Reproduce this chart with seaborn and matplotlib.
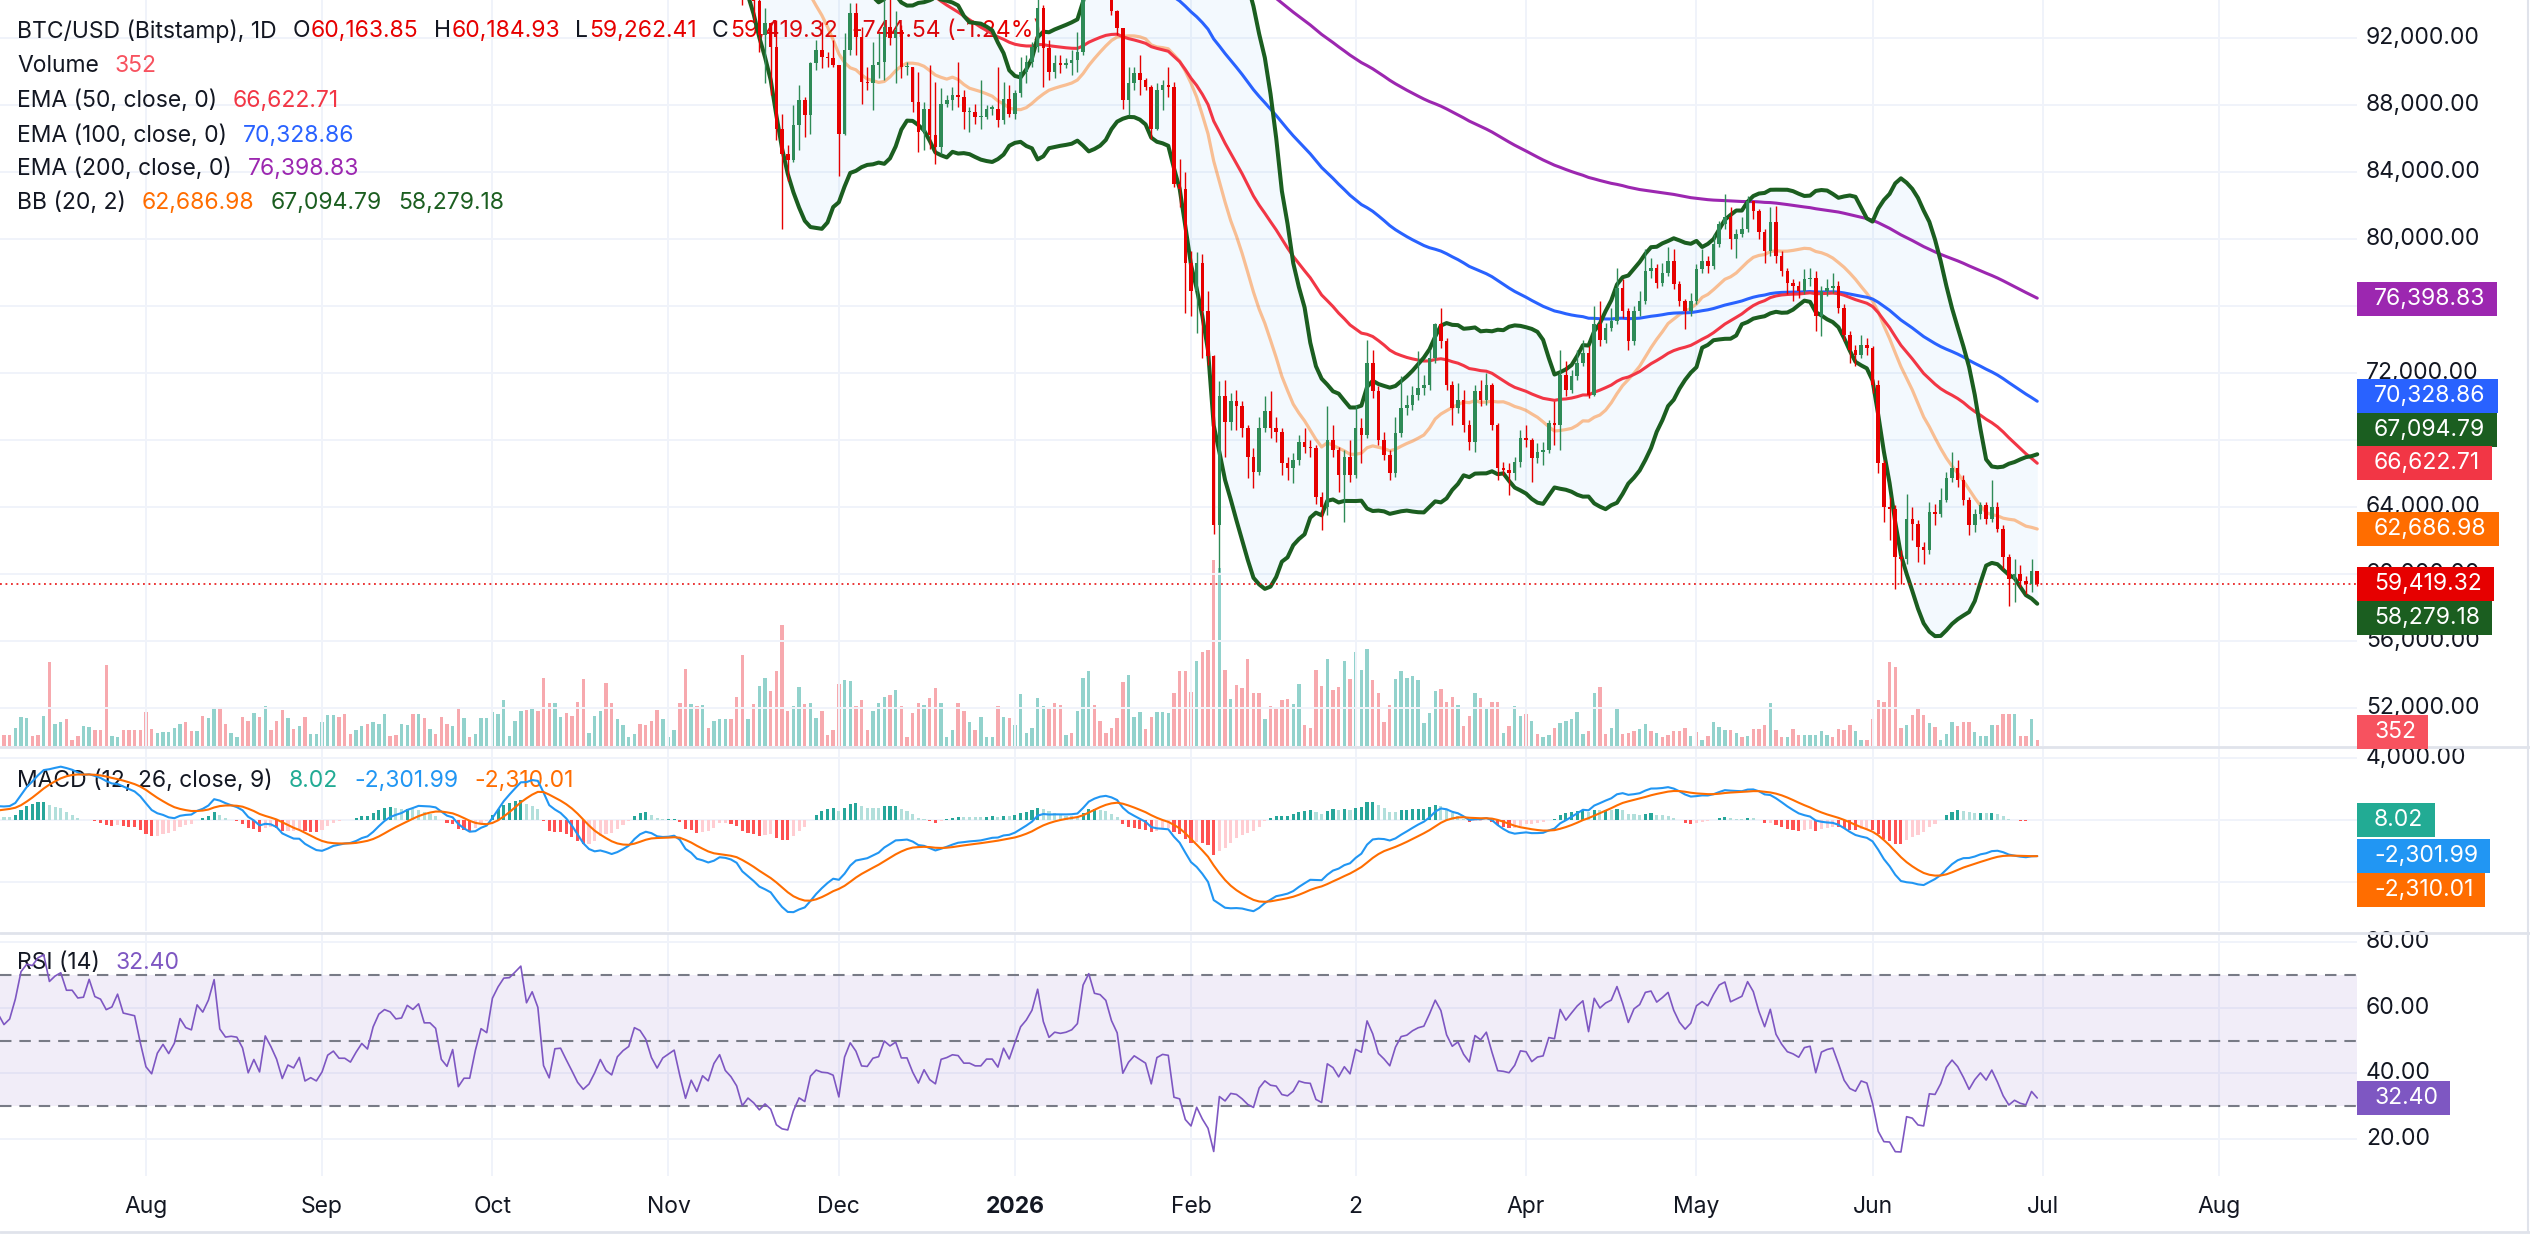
import numpy as np
import pandas as pd
import matplotlib
matplotlib.use("Agg")
import matplotlib.pyplot as plt
from matplotlib.patches import Rectangle
from matplotlib.lines import Line2D
import seaborn as sns

W, H = 2530, 1253

# closes before the first visible candle, 1 May 2025 - 13 Nov 2025 (thousand USD, above the chart top)
hist_close = [
    96.5, 96.9, 95.9, 94.3, 94.7, 96.8, 97.0, 103.2, 102.9, 104.6, 104.1, 102.8, 104.1, 103.5, 103.7, 103.5,
    103.2, 106.4, 105.6, 106.8, 109.7, 111.7, 107.3, 107.8, 109.0, 109.4, 108.9, 107.8, 105.6, 103.9, 104.6,
    105.7, 105.9, 105.4, 104.7, 101.5, 104.3, 105.6, 105.7, 110.2, 110.2, 108.6, 105.9, 106.0, 105.4, 105.6,
    106.8, 104.5, 104.8, 104.6, 103.3, 102.1, 100.9, 105.5, 106.0, 107.3, 106.9, 107.1, 107.3, 108.4, 107.1,
    105.7, 108.8, 109.6, 108.0, 108.2, 109.2, 108.3, 108.9, 111.3, 115.9, 117.5, 117.4, 119.1, 119.8, 117.7,
    118.7, 119.3, 117.9, 117.9, 117.3, 117.4, 119.9, 118.6, 118.4, 117.6, 117.9, 119.4, 118.0, 117.9, 117.8, 115.7,
    113.3, 112.5, 114.2, 115.0, 114.1, 115.0, 117.5, 116.7, 116.5, 119.3, 118.7, 120.2, 123.3, 118.4, 117.4,
    117.5, 117.4, 116.2, 112.9, 114.3, 112.5, 116.9, 115.4, 113.5, 110.1, 111.8, 111.3, 112.6, 108.4, 108.8, 108.2,
    109.2, 111.2, 111.7, 110.7, 110.7, 110.2, 111.2, 112.1, 111.5, 113.9, 115.5, 116.1, 115.9, 115.3, 115.4,
    116.8, 116.5, 117.1, 115.7, 115.7, 115.3, 112.7, 112.0, 113.3, 109.0, 109.7, 109.7, 112.1, 114.4, 114.0,
    118.6, 120.6, 122.3, 122.4, 123.5, 124.7, 121.4, 123.3, 121.7, 113.2, 110.6, 115.2, 115.3, 113.1, 110.8,
    108.2, 106.5, 107.2, 108.7, 110.6, 108.5, 107.6, 110.1, 111.0, 111.6, 114.5, 114.1, 112.9, 110.1, 108.3, 109.6,
    110.1, 110.6, 106.5, 101.6, 103.9, 101.3, 103.4, 102.3, 104.7, 106.0, 103.0, 101.7, 99.7,
]

# daily candles 14 Nov 2025 - 30 Jun 2026 (thousand USD); each open is the previous close
close = [
    94.5, 95.5, 94.2, 92.2, 92.9, 91.5, 86.6, 85.1, 84.7, 86.8, 88.3, 87.4, 90.5, 91.3, 90.9, 90.8, 90.4,
    86.3, 91.3, 93.5, 92.1, 89.4, 89.3, 90.4, 90.6, 92.7, 92.0, 92.5, 90.3, 90.3, 88.2, 86.4, 87.8,
    86.2, 85.5, 88.1, 88.3, 88.6, 88.5, 87.6, 87.6, 87.3, 87.3, 87.8, 87.8, 87.1, 88.4, 87.5,
    88.7, 90.0, 90.6, 91.5, 93.8, 91.4, 90.0, 90.5, 90.4, 90.5, 90.7, 91.2, 95.3, 97.0, 95.6, 95.5,
    95.1, 93.6, 92.6, 88.3, 89.3, 89.9, 89.5, 89.1, 86.6, 88.9, 89.2, 89.1, 83.3, 83.0, 78.6,
    76.9, 78.6, 75.7, 73.0, 62.9, 70.6, 69.1, 70.3, 70.0, 68.7, 67.0, 66.1, 68.7, 69.7,
    68.7, 68.5, 66.6, 66.3, 66.8, 67.9, 67.6, 67.5, 64.6, 64.0, 68.0, 67.4, 65.9, 67.0,
    65.9, 68.7, 68.3, 72.6, 70.9, 68.0, 67.1, 66.0, 68.4, 69.9, 70.1, 70.7, 71.1, 71.3, 72.9, 74.9,
    73.9, 71.3, 69.9, 70.4, 68.9, 67.9, 70.9, 70.4, 71.3, 68.9, 66.3, 66.2, 66.0, 66.7, 68.1,
    68.0, 66.9, 67.3, 67.4, 69.0, 68.9, 71.9, 71.0, 71.8, 72.6, 73.2, 70.7, 74.9, 74.0, 74.7,
    75.1, 77.1, 75.7, 73.9, 75.7, 76.3, 78.1, 78.3, 77.4, 78.0, 78.7, 77.3, 76.3, 75.7, 76.3,
    78.2, 78.7, 78.4, 79.7, 80.9, 81.3, 80.0, 80.3, 80.6, 82.3, 81.7, 80.4, 79.3, 81.0, 79.0, 78.1,
    77.4, 77.2, 76.9, 77.6, 77.7, 75.4, 76.9, 77.1, 77.2, 75.9, 74.3, 73.4, 73.1, 73.7, 73.5,
    71.3, 66.6, 64.0, 63.9, 61.0, 60.9, 63.3, 63.0, 61.6, 61.4, 63.7, 63.6, 64.4, 65.7, 66.3,
    65.6, 64.4, 62.9, 63.6, 64.1, 63.3, 64.0, 62.7, 61.0, 59.7, 60.0, 59.6, 59.4, 60.16, 59.42,
]
high = [
    99.8, 96.8, 96.6, 96.0, 93.8, 93.0, 93.1, 87.5, 85.6, 88.0, 89.2, 88.5, 90.6, 91.9, 93.0, 91.2, 91.9,
    90.4, 92.3, 94.1, 94.1, 92.7, 90.3, 91.8, 92.3, 94.6, 94.5, 93.6, 92.8, 90.6, 90.3, 90.0, 88.2,
    90.4, 89.4, 89.0, 88.6, 89.1, 90.6, 88.9, 87.9, 88.1, 89.5, 88.0, 88.0, 90.3, 89.4, 89.2,
    88.9, 90.9, 91.0, 91.8, 94.5, 94.0, 91.9, 91.0, 91.0, 90.8, 91.3, 92.4, 96.0, 97.8, 97.2, 95.9,
    95.6, 95.5, 93.7, 92.6, 90.3, 90.3, 91.0, 89.6, 89.2, 89.3, 89.5, 90.3, 89.4, 84.8, 84.0,
    79.3, 79.2, 79.1, 76.9, 73.1, 71.5, 71.6, 70.8, 71.0, 70.3, 68.9, 67.5, 69.4, 70.6,
    70.9, 69.4, 68.7, 67.0, 67.2, 68.3, 68.7, 68.0, 67.7, 64.9, 70.0, 68.9, 67.6, 67.4,
    68.0, 70.1, 69.3, 74.0, 73.4, 71.2, 68.5, 67.4, 69.4, 71.8, 70.7, 71.2, 73.3, 71.9, 73.4, 75.0,
    75.9, 74.1, 71.5, 71.4, 71.0, 69.2, 71.3, 71.6, 72.0, 71.4, 69.0, 66.7, 66.6, 67.0, 68.6,
    68.9, 68.1, 67.8, 67.9, 69.2, 70.3, 73.4, 72.7, 72.2, 73.4, 74.0, 73.6, 76.0, 76.3, 75.0,
    75.9, 78.3, 77.6, 75.9, 76.0, 76.9, 79.4, 78.9, 78.5, 78.6, 79.5, 79.4, 77.5, 76.4, 76.8,
    78.5, 79.4, 79.0, 80.3, 81.1, 82.7, 81.9, 80.6, 81.3, 82.6, 82.3, 81.8, 80.6, 81.9, 82.0, 79.3,
    78.3, 77.6, 77.5, 78.2, 78.3, 78.1, 77.2, 77.6, 78.0, 77.5, 76.1, 74.5, 73.7, 74.3, 74.1,
    73.6, 71.6, 66.8, 64.6, 64.1, 61.4, 64.8, 64.0, 63.2, 61.9, 64.3, 64.2, 65.1, 66.1, 67.3,
    66.8, 65.9, 64.6, 63.9, 64.3, 64.3, 65.6, 64.3, 62.9, 61.2, 60.9, 60.5, 59.9, 60.9, 60.18,
]
low = [
    94.0, 94.5, 93.0, 91.2, 89.3, 88.6, 85.9, 80.6, 83.5, 84.6, 85.3, 86.1, 86.3, 90.1, 90.2, 90.3, 90.3,
    83.8, 86.2, 91.0, 91.0, 88.1, 88.9, 87.7, 89.6, 89.5, 91.6, 89.3, 89.6, 89.8, 87.6, 85.2, 85.3,
    85.4, 84.5, 85.1, 87.9, 87.7, 87.9, 86.6, 86.4, 86.9, 86.6, 87.2, 87.4, 86.7, 86.9, 87.3,
    87.2, 88.5, 89.3, 90.3, 91.2, 89.1, 89.5, 89.6, 89.9, 90.2, 89.8, 90.0, 91.0, 94.8, 95.0, 94.5,
    94.7, 93.4, 92.2, 87.8, 87.4, 88.9, 88.6, 88.9, 86.0, 86.5, 87.7, 88.5, 83.1, 81.9, 75.6,
    75.4, 74.4, 72.9, 72.5, 62.4, 60.1, 67.0, 68.6, 68.6, 68.2, 65.7, 65.1, 65.9, 68.5,
    68.1, 67.9, 65.9, 65.6, 65.4, 66.5, 67.2, 67.0, 64.2, 62.6, 63.5, 67.0, 64.9, 63.1,
    65.5, 65.7, 66.6, 68.1, 70.5, 67.7, 66.8, 65.6, 65.8, 68.2, 69.5, 69.8, 70.4, 70.7, 71.0, 72.6,
    73.5, 71.0, 68.9, 69.6, 68.5, 67.4, 67.3, 70.0, 70.1, 68.6, 65.6, 65.9, 64.7, 65.6, 66.4,
    67.6, 65.5, 66.6, 66.5, 67.2, 67.7, 67.4, 70.6, 70.8, 71.6, 72.4, 70.5, 70.6, 73.6, 73.8,
    74.5, 74.9, 75.3, 73.4, 73.7, 75.4, 76.1, 77.7, 77.1, 77.2, 77.8, 77.0, 76.0, 74.6, 75.4,
    76.1, 78.0, 78.0, 78.2, 79.5, 80.6, 79.4, 78.9, 80.1, 80.4, 81.2, 80.0, 78.6, 79.0, 78.6, 77.8,
    76.7, 76.3, 76.5, 76.7, 77.2, 74.5, 74.2, 76.6, 76.8, 75.6, 73.9, 72.6, 72.4, 72.9, 73.1,
    70.8, 66.0, 63.1, 62.0, 59.1, 59.4, 60.6, 62.0, 60.7, 60.6, 61.2, 62.9, 63.4, 64.3, 65.5,
    65.2, 64.1, 62.3, 62.5, 63.3, 63.0, 63.1, 62.5, 60.3, 58.1, 58.3, 59.2, 58.8, 58.9, 59.26,
]

# daily volume 7 Jul 2025 - 30 Jun 2026 (BTC) and bar direction (g = up day, r = down day)
volume = [
    620, 620, 1030, 1650, 1570, 570, 620, 1700, 4750, 1240, 1380, 1510, 350, 570, 1110, 1050, 890, 890, 4590, 570,
    490, 890, 920, 920, 920, 1920, 970, 760, 810, 810, 1030, 1240, 1380, 840, 840, 1700, 1570, 2160, 2160, 1240,
    760, 490, 1650, 1430, 1840, 1650, 2270, 890, 1430, 2050, 1570, 970, 1110, 1650, 700, 700, 1380, 1760, 1760, 1650,
    1780, 700, 890, 1110, 1240, 1380, 1240, 1780, 570, 620, 1240, 1160, 1780, 1780, 1570, 970,
    700, 1650, 1240, 1110, 2160, 1570, 490, 700, 1570, 1570, 1920, 1780, 2570, 570, 1430, 1970, 2050, 2110, 1970, 3860,
    2430, 2430, 1650, 1840, 1700, 2510, 3810, 760, 1700, 1970, 3540, 2430, 1510, 1160, 490, 700, 1240, 1160, 1430, 2050,
    1510, 490, 890, 2430, 4350, 2380, 2240, 2320, 1030, 1430, 1510, 1510, 1510, 2780, 5130, 1510, 2380, 3400, 3860, 3110,
    4210, 6830, 1970, 2240, 3320, 2380, 2430, 1570, 1970, 620, 890, 3510, 3730, 3670,
    2240, 2590, 890, 1970, 2430, 2780, 2860, 3190, 2240, 490, 1840, 2430, 2320, 2700, 3270, 2430, 490, 890, 2430, 1970,
    1350, 890, 1650, 490, 490, 2240, 1650, 1570, 1160, 2920, 760, 1030, 2730, 2240, 2110, 2430, 2320, 620, 760, 1970,
    3860, 4210, 2320, 1430, 760, 1030, 1570, 3590, 4000, 1650, 1920, 970, 1650, 1920, 1920, 1840, 3000, 4210, 4210, 3050,
    4810, 5290, 5430, 10480, 10070, 4270, 2650, 3460, 3270, 4890, 2970, 3000, 1510, 2240,
    2160, 2590, 2650, 2380, 3510, 1160, 1030, 4270, 3400, 4890, 3190, 3320, 4810, 3810, 5290, 4270, 5480, 3730, 2970, 1380,
    2320, 3810, 4210, 3860, 3940, 3730, 1300, 1840, 3110, 3240, 2460, 2780, 2320, 1110, 1700, 3000, 2700, 2160, 2460, 2460,
    760, 1110, 2240, 1700, 1780, 1430, 700, 490, 620, 1030, 1300, 1430, 1510, 1920, 700, 840, 3000, 3320, 700, 1030,
    2110, 700, 760, 840, 970, 1240, 840, 760, 490, 620, 840, 840, 1030,
    570, 810, 350, 540, 1380, 1080, 890, 890, 760, 490, 540, 950, 950, 1160, 2430, 890, 490, 490, 970, 620,
    620, 620, 620, 840, 620, 490, 950, 890, 1160, 840, 350, 350, 1510, 2570, 2460, 4750, 4480, 1030, 1160, 1760,
    2160, 1760, 1300, 1080, 350, 700, 1380, 1110, 1350, 1350, 810, 570, 570, 1160, 1160, 1780, 1780, 1780, 570, 570,
    1510, 352,
]
vol_dir = (
    "rrgggrrgrg" "grrrggrrrg" "grrrrrrggg" "ggrrgrggrr" "ggrrgrgrrr" "grgrgggggr" "rrggrgggrr" "ggrgrg"
    "rrrgrgrggg" "ggggggrgrr" "rggrrrrggg" "rrggggrrrr" "gggrrgrgrg" "ggrrrgrggr" "rrrggrggrr" "rrgg"
    "rrrgggrgrr" "rrgrrgggrr" "grgggrgrgg" "ggggrrrgrg" "ggrrrrrrgg" "grrgggrrrr" "grrrgrgrrr" "rrgr"
    "rrrggrrrrg" "rrgrgggrrr" "rggggggggr" "rrgrrgrgrr" "grggrgrggr" "gggggrgrrg" "grrrggrgrr" "rrr"
    "grgrgggrgr" "grrrgrrgrr" "gggggrrrrg" "grrrrrrrgr" "rrgrgggrrr" "ggggrrrgrr" "gr"
)

hist_start = -92      # day numbers counted from 1 Aug 2025
candle_start = 105
vol_start = -25

month_days = [0, 31, 61, 92, 122, 153, 184, 213, 243, 273, 304, 334, 365]
month_names = ["Aug", "Sep", "Oct", "Nov", "Dec", "2026", "Feb", "2", "Apr", "May", "Jun", "Jul", "Aug"]
price_ticks = list(range(52000, 92001, 4000))
macd_ticks = [4000, 0, -4000]
rsi_ticks = [80, 60, 40, 20]

last_ohlc = ["60,163.85", "60,184.93", "59,262.41", "59,419.32"]
change_txt = "-744.54 (-1.24%)"
last_volume = "352"
ema_last = ["66,622.71", "70,328.86", "76,398.83"]
bb_last = ["62,686.98", "67,094.79", "58,279.18"]
macd_last = ["8.02", "-2,301.99", "-2,310.01"]
rsi_last = "32.40"

assert len(hist_close) == candle_start - hist_start
assert len(close) == len(high) == len(low) == 229
assert len(volume) == len(vol_dir) == 359

# ---- indicators ----
c = pd.Series(np.r_[hist_close, close] * 1000.0,
              index=np.arange(hist_start, candle_start + len(close)))
ema = {n: c.ewm(span=n, adjust=False).mean() for n in (50, 100, 200)}
bb_mid = c.rolling(20).mean()
bb_sd = c.rolling(20).std(ddof=0)
bb_up, bb_lo = bb_mid + 2 * bb_sd, bb_mid - 2 * bb_sd
macd = c.ewm(span=12, adjust=False).mean() - c.ewm(span=26, adjust=False).mean()
signal = macd.ewm(span=9, adjust=False).mean()
hist = macd - signal
delta = c.diff()
gain = delta.clip(lower=0).ewm(alpha=1 / 14, adjust=False).mean()
loss = (-delta.clip(upper=0)).ewm(alpha=1 / 14, adjust=False).mean()
rsi = 100 - 100 / (1 + gain / loss)

vis = c.index >= -30
days = c.index[vis].to_numpy()

# ---- figure ----
sns.set_theme(style="white")
plt.rcParams["font.family"] = ["Inter", "DejaVu Sans"]
DARK = "#131722"
GRID = "#F0F3FA"
FS = 16.5
XL = (-25.7, 389.3)
PX_DAY = 2357 / (XL[1] - XL[0])

fig = plt.figure(figsize=(W / 100, H / 100), dpi=100)
fig.patch.set_facecolor("white")


def rect(top, bottom):
    return [0, 1 - bottom / H, 2357 / W, (bottom - top) / H]


ax_v = fig.add_axes(rect(0, 746))
ax_p = fig.add_axes(rect(0, 746))
ax_m = fig.add_axes(rect(748, 931))
ax_r = fig.add_axes(rect(934, 1176))
for ax in (ax_v, ax_p, ax_m, ax_r):
    ax.set_xticks([])
    ax.set_yticks([])
    for s in ax.spines.values():
        s.set_visible(False)
ax_p.patch.set_visible(False)
ax_v.set_zorder(0)
ax_p.set_zorder(1)

for ax in (ax_p, ax_m, ax_r):
    for d in month_days:
        ax.axvline(d, color=GRID, lw=1.4, zorder=0)
for v in price_ticks:
    ax_p.axhline(v, color=GRID, lw=1.4, zorder=0)
for v in macd_ticks:
    ax_m.axhline(v, color=GRID, lw=1.4, zorder=0)
for v in rsi_ticks:
    ax_r.axhline(v, color=GRID, lw=1.4, zorder=0)

# volume
vd = np.arange(vol_start, vol_start + len(volume))
ax_v.bar(vd, volume, width=0.6, color=["#92D2CC" if f == "g" else "#F7A9AE" for f in vol_dir], linewidth=0)

# bollinger bands and EMAs
ax_p.fill_between(days, bb_lo[vis], bb_up[vis], color="#2196F3", alpha=0.05, lw=0, zorder=1)
sns.lineplot(x=days, y=bb_mid[vis].to_numpy(), ax=ax_p, color="#FF6D00", alpha=0.42, lw=2.3, zorder=2)
sns.lineplot(x=days, y=ema[200][vis].to_numpy(), ax=ax_p, color="#9C27B0", lw=2.2, zorder=2)
sns.lineplot(x=days, y=ema[100][vis].to_numpy(), ax=ax_p, color="#2962FF", lw=2.2, zorder=2)
sns.lineplot(x=days, y=ema[50][vis].to_numpy(), ax=ax_p, color="#F23645", lw=2.2, zorder=2)
sns.lineplot(x=days, y=bb_up[vis].to_numpy(), ax=ax_p, color="#1B5E20", lw=2.9, zorder=2)
sns.lineplot(x=days, y=bb_lo[vis].to_numpy(), ax=ax_p, color="#1B5E20", lw=2.9, zorder=2)

# candles
cd = np.arange(candle_start, candle_start + len(close))
cl = np.array(close) * 1000
hi = np.array(high) * 1000
lo = np.array(low) * 1000
op = np.r_[hist_close[-1], close[:-1]] * 1000
ccol = np.where(cl >= op, "#2E8B57", "#E60000")
ax_p.vlines(cd, lo, hi, colors=ccol, lw=1.0, zorder=4)
ax_p.bar(cd, np.maximum(np.abs(cl - op), 70), bottom=np.minimum(op, cl), width=0.62,
         color=ccol, linewidth=0, zorder=5)
ax_p.axhline(cl[-1], color="#E60000", lw=1.1, ls=(0, (1.2, 2.4)), zorder=3)

# MACD
hv = hist[vis].to_numpy()
hp = hist.shift(1)[vis].to_numpy()
hcol = np.where(hv >= 0, np.where(hv >= hp, "#26A69A", "#B2DFDB"),
                np.where(hv < hp, "#FF5252", "#FFCDD2"))
ax_m.bar(days, hv, width=0.55, color=hcol, linewidth=0, zorder=1)
sns.lineplot(x=days, y=macd[vis].to_numpy(), ax=ax_m, color="#2196F3", lw=1.5, zorder=2)
sns.lineplot(x=days, y=signal[vis].to_numpy(), ax=ax_m, color="#FF6D00", lw=1.5, zorder=2)

# RSI
ax_r.axhspan(30, 70, color="#7E57C2", alpha=0.1, lw=0, zorder=0)
for lvl in (70, 50, 30):
    ax_r.axhline(lvl, color="#787B86", lw=1.5, ls=(0, (5.5, 3.8)), zorder=1)
sns.lineplot(x=days, y=rsi[vis].to_numpy(), ax=ax_r, color="#7E57C2", lw=1.2, zorder=2)

for ax in (ax_v, ax_p, ax_m, ax_r):
    ax.set_xlim(*XL)
    ax.set_xlabel("")
    ax.set_ylabel("")
ax_p.set_ylim(49714, 94286)
ax_v.set_ylim(0, 42120)
ax_m.set_ylim(-7136, 4640)
ax_r.set_ylim(8.73, 82.44)

fig.canvas.draw()
renderer = fig.canvas.get_renderer()
tag_spans = []


def num(s):
    return float(s.replace(",", ""))


def tag(ax, value, text, color, nudge=0):
    ypx = ax.transData.transform((0, value))[1] - nudge
    t = fig.text(2374 / W, ypx / H, text, color="white", fontsize=FS, va="center", ha="left", zorder=6)
    w = t.get_window_extent(renderer).width
    fig.patches.append(Rectangle((2357 / W, (ypx - 17) / H), (w + 29) / W, 34 / H,
                                 transform=fig.transFigure, fc=color, ec="none", zorder=5))
    tag_spans.append((ypx - 17, ypx + 17))


tag(ax_p, num(ema_last[2]), ema_last[2], "#9C27B0")
tag(ax_p, num(ema_last[1]), ema_last[1], "#2962FF", nudge=-5)
tag(ax_p, num(bb_last[1]), bb_last[1], "#1B5E20", nudge=-25)
tag(ax_p, num(ema_last[0]), ema_last[0], "#F23645")
tag(ax_p, num(bb_last[0]), bb_last[0], "#FF6D00")
tag(ax_p, num(last_ohlc[3]), last_ohlc[3], "#E60000")
tag(ax_p, num(bb_last[2]), bb_last[2], "#1B5E20", nudge=15)
tag(ax_v, num(last_volume), last_volume, "#F7525F", nudge=-8)
tag(ax_m, num(macd_last[0]), macd_last[0], "#22AB94")
tag(ax_m, num(macd_last[1]), macd_last[1], "#2196F3")
tag(ax_m, num(macd_last[2]), macd_last[2], "#FF6D00", nudge=34)
tag(ax_r, num(rsi_last), rsi_last, "#7E57C2")


# right axis labels; the ones fully covered by value tags are left out, as on the chart
def covered(y):
    return any(a <= y <= b for a, b in tag_spans)


def axis_label(ax, y, s):
    ypx = ax.transData.transform((0, y))[1]
    if covered(ypx - 8) and covered(ypx) and covered(ypx + 8):
        return
    ax.text(1 + 9 / 2357, y, s, transform=ax.get_yaxis_transform(), va="center", ha="left",
            fontsize=FS, color=DARK, clip_on=False, zorder=1)


for v in price_ticks:
    axis_label(ax_p, v, f"{v:,.2f}")
for v in macd_ticks:
    axis_label(ax_m, v, f"{v:,.2f}")
for v in rsi_ticks:
    axis_label(ax_r, v, f"{v:.2f}")


# legends (drawn under the candles)
def legend_row(ax, y_px, parts):
    x = 17
    for s, col, gap in parts:
        t = ax.text(x / W, 1 - y_px / H, s, transform=fig.transFigure, color=col, fontsize=FS,
                    va="center", ha="left", zorder=0.5)
        x += t.get_window_extent(renderer).width + gap


RED = "#E60000"
legend_row(ax_p, 31, [("BTC/USD (Bitstamp), 1D", DARK, 16), ("O", DARK, 1), (last_ohlc[0], RED, 15),
                      ("H", DARK, 1), (last_ohlc[1], RED, 15), ("L", DARK, 1), (last_ohlc[2], RED, 15),
                      ("C", DARK, 1), (last_ohlc[3], RED, 14), (change_txt, RED, 0)])
legend_row(ax_p, 66, [("Volume", DARK, 16), (last_volume, "#F7525F", 0)])
legend_row(ax_p, 101, [("EMA (50, close, 0)", DARK, 16), (ema_last[0], "#F23645", 0)])
legend_row(ax_p, 136, [("EMA (100, close, 0)", DARK, 16), (ema_last[1], "#2962FF", 0)])
legend_row(ax_p, 169, [("EMA (200, close, 0)", DARK, 16), (ema_last[2], "#9C27B0", 0)])
legend_row(ax_p, 203, [("BB (20, 2)", DARK, 16), (bb_last[0], "#FF6D00", 16),
                       (bb_last[1], "#1B5E20", 16), (bb_last[2], "#1B5E20", 0)])
legend_row(ax_m, 781, [("MACD (12, 26, close, 9)", DARK, 16), (macd_last[0], "#22AB94", 16),
                       (macd_last[1], "#2196F3", 16), (macd_last[2], "#FF6D00", 0)])
legend_row(ax_r, 963, [("RSI (14)", DARK, 16), (rsi_last, "#7E57C2", 0)])

# time axis
for d, name in zip(month_days, month_names):
    fig.text((d - XL[0]) * PX_DAY / W, 1 - 1207 / H, name, ha="center", va="center", fontsize=FS,
             color=DARK, fontweight="bold" if name == "2026" else "normal")

# pane separators and frame
for y in (747, 932.5, 1232):
    fig.add_artist(Line2D([0, 1], [1 - y / H, 1 - y / H], transform=fig.transFigure, color="#E0E3EB", lw=2))
fig.add_artist(Line2D([2528 / W, 2528 / W], [1 - 1232 / H, 1], transform=fig.transFigure, color="#E0E3EB", lw=1.5))

fig.savefig("out.png", dpi=100, facecolor="white")
